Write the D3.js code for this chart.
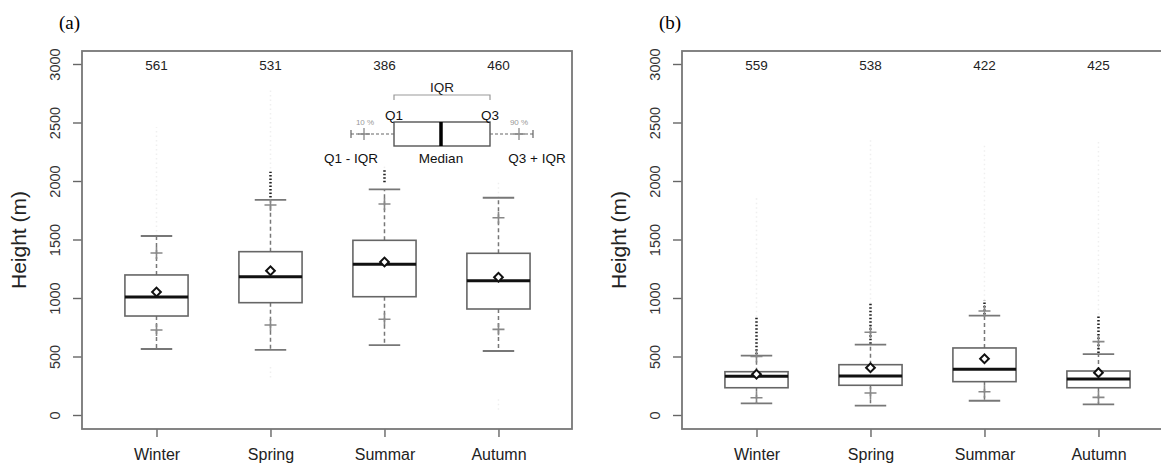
<!DOCTYPE html>
<html>
<head>
<meta charset="utf-8">
<script src="https://cdn.jsdelivr.net/npm/d3@7"></script>
<style>
  body { margin: 0; background: #fff; }
  text { font-family: "Liberation Sans", Arial, sans-serif; }
</style>
</head>
<body>
<svg id="chart" width="1161" height="469"></svg>
<script>
// categories and tick values
const seasons = ['Winter', 'Spring', 'Summar', 'Autumn'];
const yTicks = [0, 500, 1000, 1500, 2000, 2500, 3000];

// panel (a) values (m)
const countsA = [561, 531, 386, 460];
const lowA  = [564, 556, 598, 547];     // Q1 - IQR
const p10A  = [726, 769, 818, 732];
const q1A   = [846, 960, 1011, 906];
const medA  = [1008, 1182, 1288, 1148];
const meanA = [1051, 1233, 1308, 1177];
const q3A   = [1197, 1396, 1493, 1382];
const p90A  = [1385, 1795, 1803, 1686];
const highA = [1530, 1838, 1929, 1857]; // Q3 + IQR
const outA  = [null, [1860, 2080], [1990, 2110], null];
const faintA = [[1530, 2460], [1838, 2780], [2110, 2130], [1857, 1990]];
const faintLowA = [null, [320, 410], null, [45, 145]];

// panel (b)
const countsB = [559, 538, 422, 425];
const lowB  = [100, 80, 122, 91];
const p10B  = [148, 188, 199, 151];
const q1B   = [233, 254, 285, 233];
const medB  = [331, 333, 390, 308];
const meanB = [348, 404, 481, 362];
const q3B   = [370, 430, 573, 376];
const p90B  = [500, 707, 889, 627];
const highB = [508, 601, 849, 521];
const outB  = [[520, 840], [610, 950], [860, 980], [530, 860]];
const faintB = [[840, 1870], [950, 2370], [980, 2310], [860, 2340]];
const faintLowB = [null, null, null, null];

const svg = d3.select('#chart');
svg.append('rect').attr('width', 1161).attr('height', 469).attr('fill', '#fff');

// shared y scale (both panels same height)
const y = d3.scaleLinear().domain([0, 3000]).range([415, 64]);
const frameTop = 51, frameBottom = 429;

function drawPanel(left, tag, d) {
  const x = d3.scaleLinear().domain([0.3465, 4.645]).range([left, left + 490]);
  const g = svg.append('g');
  const idx = d3.range(seasons.length);
  const pos = i => x(i + 1);
  const boxHalf = 0.277, capHalf = 0.138;

  // faint raw data columns
  g.selectAll('.faint').data(idx.filter(i => d.faint[i])).enter().append('line')
    .attr('x1', pos).attr('x2', pos)
    .attr('y1', i => y(d.faint[i][0])).attr('y2', i => y(d.faint[i][1]))
    .attr('stroke', '#efefef').attr('stroke-width', 1.5).attr('stroke-dasharray', '1.5,3');
  g.selectAll('.faintlow').data(idx.filter(i => d.faintLow[i])).enter().append('line')
    .attr('x1', pos).attr('x2', pos)
    .attr('y1', i => y(d.faintLow[i][0])).attr('y2', i => y(d.faintLow[i][1]))
    .attr('stroke', '#efefef').attr('stroke-width', 1.5).attr('stroke-dasharray', '1.5,3');

  // whiskers (dashed)
  g.selectAll('.wu').data(idx).enter().append('line')
    .attr('x1', pos).attr('x2', pos)
    .attr('y1', i => y(d.q3[i])).attr('y2', i => y(d.high[i]))
    .attr('stroke', '#777').attr('stroke-width', 1.5).attr('stroke-dasharray', '4,3');
  g.selectAll('.wl').data(idx).enter().append('line')
    .attr('x1', pos).attr('x2', pos)
    .attr('y1', i => y(d.q1[i])).attr('y2', i => y(d.low[i]))
    .attr('stroke', '#777').attr('stroke-width', 1.5).attr('stroke-dasharray', '4,3');

  // outliers, dark dotted
  g.selectAll('.out').data(idx.filter(i => d.out[i])).enter().append('line')
    .attr('x1', pos).attr('x2', pos)
    .attr('y1', i => y(d.out[i][0])).attr('y2', i => y(d.out[i][1]))
    .attr('stroke', '#222').attr('stroke-width', 2.5).attr('stroke-dasharray', '1.5,2');

  // caps
  [d.high, d.low].forEach(arr => {
    g.selectAll(null).data(idx).enter().append('line')
      .attr('x1', i => x(i + 1 - capHalf)).attr('x2', i => x(i + 1 + capHalf))
      .attr('y1', i => y(arr[i])).attr('y2', i => y(arr[i]))
      .attr('stroke', '#777').attr('stroke-width', 1.8);
  });

  // boxes
  g.selectAll('.box').data(idx).enter().append('rect')
    .attr('x', i => x(i + 1 - boxHalf))
    .attr('width', i => x(i + 1 + boxHalf) - x(i + 1 - boxHalf))
    .attr('y', i => y(d.q3[i]))
    .attr('height', i => y(d.q1[i]) - y(d.q3[i]))
    .attr('fill', '#fff').attr('stroke', '#666').attr('stroke-width', 1.6);

  // medians
  g.selectAll('.med').data(idx).enter().append('line')
    .attr('x1', i => x(i + 1 - boxHalf)).attr('x2', i => x(i + 1 + boxHalf))
    .attr('y1', i => y(d.med[i])).attr('y2', i => y(d.med[i]))
    .attr('stroke', '#111').attr('stroke-width', 3);

  // 10 % and 90 % crosses
  [d.p10, d.p90].forEach(arr => {
    g.selectAll(null).data(idx).enter().append('path')
      .attr('transform', i => `translate(${pos(i)},${y(arr[i])})`)
      .attr('d', 'M-6,0H6M0,-6V6')
      .attr('stroke', '#888').attr('stroke-width', 1.6).attr('fill', 'none');
  });

  // means (diamond)
  g.selectAll('.mean').data(idx).enter().append('path')
    .attr('transform', i => `translate(${pos(i)},${y(d.mean[i])}) rotate(45)`)
    .attr('d', d3.symbol().type(d3.symbolSquare).size(38))
    .attr('fill', '#fff').attr('stroke', '#111').attr('stroke-width', 2);

  // counts
  g.selectAll('.cnt').data(idx).enter().append('text')
    .attr('x', pos).attr('y', 70)
    .attr('text-anchor', 'middle').attr('font-size', 13.5).attr('fill', '#222')
    .text(i => d.counts[i]);

  // axes
  const yAxis = g.append('g').attr('transform', `translate(${left},0)`)
    .call(d3.axisLeft(y).tickValues(yTicks).tickFormat(d3.format('d')).tickSize(9).tickSizeOuter(0));
  yAxis.select('.domain').remove();
  yAxis.selectAll('line').attr('stroke', '#666').attr('stroke-width', 1.4);
  yAxis.selectAll('text')
    .attr('transform', 'rotate(-90)')
    .attr('x', 0).attr('y', -22).attr('dy', 0)
    .attr('text-anchor', 'middle')
    .attr('font-size', 14.5).attr('fill', '#333')
    .style('font-family', '"Liberation Sans", Arial, sans-serif');

  const xAxis = g.append('g').attr('transform', `translate(0,${frameBottom})`)
    .call(d3.axisBottom(x).tickValues([1, 2, 3, 4]).tickFormat(v => seasons[v - 1]).tickSize(8).tickSizeOuter(0));
  xAxis.select('.domain').remove();
  xAxis.selectAll('line').attr('stroke', '#666').attr('stroke-width', 1.4);
  xAxis.selectAll('text')
    .attr('y', 31).attr('dy', 0)
    .attr('font-size', 16).attr('fill', '#222')
    .style('font-family', '"Liberation Sans", Arial, sans-serif');

  // frame
  g.append('rect')
    .attr('x', left).attr('y', frameTop)
    .attr('width', 490).attr('height', frameBottom - frameTop)
    .attr('fill', 'none').attr('stroke', '#777').attr('stroke-width', 1.8);

  // axis title
  g.append('text')
    .attr('transform', `translate(${left - 56},${(frameTop + frameBottom) / 2}) rotate(-90)`)
    .attr('text-anchor', 'middle').attr('font-size', 21).attr('fill', '#222')
    .text('Height (m)');

  // panel tag
  g.append('text')
    .attr('x', left - 23).attr('y', 29)
    .attr('font-size', 19).attr('fill', '#000')
    .style('font-family', '"Liberation Serif", "Times New Roman", serif')
    .text(tag);
  return g;
}

drawPanel(82, '(a)', {
  counts: countsA, low: lowA, p10: p10A, q1: q1A, med: medA, mean: meanA,
  q3: q3A, p90: p90A, high: highA, out: outA, faint: faintA, faintLow: faintLowA
});
drawPanel(682, '(b)', {
  counts: countsB, low: lowB, p10: p10B, q1: q1B, med: medB, mean: meanB,
  q3: q3B, p90: p90B, high: highB, out: outB, faint: faintB, faintLow: faintLowB
});

// explanatory inset in panel (a)
const key = svg.append('g').attr('transform', 'translate(394,0)');
const kGray = '#999';
key.append('path').attr('d', 'M0,100V95H96V100').attr('fill', 'none').attr('stroke', kGray).attr('stroke-width', 1.2);
key.append('text').attr('x', 48).attr('y', 92).attr('text-anchor', 'middle').attr('font-size', 13.5).attr('fill', '#222').text('IQR');
key.append('rect').attr('x', 0).attr('y', 122).attr('width', 96).attr('height', 24)
  .attr('fill', '#fff').attr('stroke', '#555').attr('stroke-width', 1.4);
key.append('line').attr('x1', 47).attr('x2', 47).attr('y1', 122).attr('y2', 146).attr('stroke', '#000').attr('stroke-width', 3.5);
key.append('line').attr('x1', -43).attr('x2', 0).attr('y1', 134).attr('y2', 134).attr('stroke', '#666').attr('stroke-width', 1.2).attr('stroke-dasharray', '3,2');
key.append('line').attr('x1', 96).attr('x2', 139).attr('y1', 134).attr('y2', 134).attr('stroke', '#666').attr('stroke-width', 1.2).attr('stroke-dasharray', '3,2');
key.append('path').attr('d', 'M-43,130V138M139,130V138').attr('stroke', '#666').attr('stroke-width', 1.2);
key.append('path').attr('d', 'M-36,134H-24M-30,128V140M119,134H131M125,128V140').attr('stroke', '#888').attr('stroke-width', 1.3);
key.append('text').attr('x', 0).attr('y', 120).attr('text-anchor', 'middle').attr('font-size', 13.5).attr('fill', '#111').text('Q1');
key.append('text').attr('x', 96).attr('y', 120).attr('text-anchor', 'middle').attr('font-size', 13.5).attr('fill', '#111').text('Q3');
key.append('text').attr('x', -29).attr('y', 125).attr('text-anchor', 'middle').attr('font-size', 8).attr('fill', '#999').text('10 %');
key.append('text').attr('x', 125).attr('y', 125).attr('text-anchor', 'middle').attr('font-size', 8).attr('fill', '#999').text('90 %');
key.append('text').attr('x', -43).attr('y', 163).attr('text-anchor', 'middle').attr('font-size', 13.5).attr('fill', '#111').text('Q1 - IQR');
key.append('text').attr('x', 47).attr('y', 163).attr('text-anchor', 'middle').attr('font-size', 13.5).attr('fill', '#111').text('Median');
key.append('text').attr('x', 143).attr('y', 163).attr('text-anchor', 'middle').attr('font-size', 13.5).attr('fill', '#111').text('Q3 + IQR');
</script>
</body>
</html>
